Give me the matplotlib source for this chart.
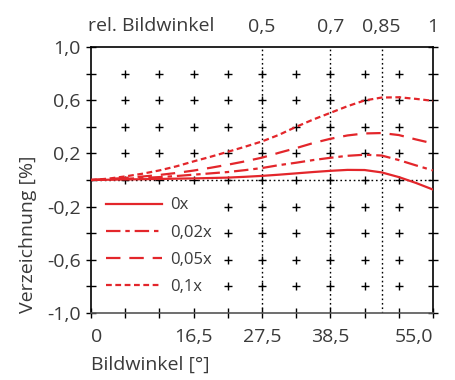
import numpy as np
import matplotlib
matplotlib.use('Agg')
from matplotlib import pyplot as plt

plt.rcParams['font.family'] = ['Open Sans', 'DejaVu Sans']
plt.rcParams['font.size'] = 14

# Bildwinkel in Grad
winkel = [0, 2.75, 5.5, 8.25, 11, 13.75, 16.5, 19.25, 22, 24.75, 27.5, 30.25, 33,
          35.75, 38.5, 41.25, 44, 46.75, 49.5, 52.25, 55]

# Verzeichnung in % fuer die vier Faelle
v_0x = [0, 0.002, 0.004, 0.006, 0.008, 0.010, 0.012, 0.015, 0.018, 0.024, 0.031, 0.040,
        0.050, 0.060, 0.069, 0.076, 0.075, 0.057, 0.022, -0.022, -0.072]
v_002x = [0, 0.004, 0.009, 0.015, 0.022, 0.030, 0.040, 0.050, 0.060, 0.074, 0.090, 0.112,
          0.130, 0.150, 0.167, 0.182, 0.190, 0.184, 0.150, 0.110, 0.072]
v_005x = [0, 0.007, 0.016, 0.026, 0.038, 0.053, 0.071, 0.092, 0.115, 0.140, 0.168, 0.205,
          0.240, 0.278, 0.310, 0.335, 0.350, 0.353, 0.338, 0.305, 0.275]
v_01x = [0, 0.010, 0.027, 0.047, 0.072, 0.103, 0.140, 0.175, 0.212, 0.250, 0.290, 0.340,
         0.400, 0.455, 0.505, 0.555, 0.598, 0.620, 0.622, 0.610, 0.595]
labels = ['0x', '0,02x', '0,05x', '0,1x']

# Achsen
xticks = [0, 5.5, 11, 16.5, 22, 27.5, 33, 38.5, 44, 49.5, 55]
xticklabels = ['0', '', '', '16,5', '', '27,5', '', '38,5', '', '', '55,0']
yticks = [-1.0, -0.8, -0.6, -0.4, -0.2, 0, 0.2, 0.4, 0.6, 0.8, 1.0]
yticklabels = ['-1,0', '', '-0,6', '', '-0,2', '', '0,2', '', '0,6', '', '1,0']
rel_ticks = [27.5, 38.5, 46.75, 55]
rel_labels = ['0,5', '0,7', '0,85', '1']

RED = '#e3262b'
TXT = '#3a3a3a'

fig = plt.figure(figsize=(4.56, 3.80), dpi=100)
ax = fig.add_axes([91/456, 67/380, 342/456, 266/380])

# Hilfslinien
for xv in rel_ticks[:-1]:
    ax.axvline(xv, color='k', lw=1, ls=(0, (1.2, 2)), zorder=1)
ax.axhline(0, color='k', lw=1, ls=(0, (1.2, 2)), zorder=1)

# Kreuzraster
gx, gy = np.meshgrid(xticks[1:-1], yticks[1:-1])
ax.plot(gx.ravel(), gy.ravel(), ls='none', marker='+', ms=6, mew=1, color='k', zorder=2)

ax.plot(winkel, v_0x, color=RED, lw=1.6, label=labels[0], zorder=3)
ax.plot(winkel, v_002x, color=RED, lw=1.6, ls=(0, (6.5, 2.2, 2, 2.2)), label=labels[1], zorder=3)
ax.plot(winkel, v_005x, color=RED, lw=1.6, ls=(0, (6.5, 4)), label=labels[2], zorder=3)
ax.plot(winkel, v_01x, color=RED, lw=1.6, ls=(0, (2.6, 1.6)), label=labels[3], zorder=3)

ax.set_xlim(0, 55)
ax.set_ylim(-1, 1)
ax.set_xticks(xticks)
ax.set_xticklabels(xticklabels)
ax.set_yticks(yticks)
ax.set_yticklabels(yticklabels)
ax.tick_params(direction='inout', length=7, width=1, colors='k', labelcolor=TXT,
               top=True, right=True, labelsize=14)
ax.tick_params(axis='x', pad=7)
ax.tick_params(axis='y', pad=4)
xl = ax.get_xticklabels()
xl[0].set_ha('left')
xl[-1].set_ha('right')
for s in ax.spines.values():
    s.set_linewidth(1.2)
    s.set_color('k')
ax.spines['bottom'].set_color('#555555')

ax.set_xlabel('Bildwinkel [°]', loc='left', color=TXT, labelpad=7)
ax.set_ylabel('Verzeichnung [%]', loc='bottom', color=TXT, labelpad=7)

# obere Achse: relativer Bildwinkel
ax2 = ax.twiny()
ax2.set_xlim(0, 55)
ax2.set_xticks(rel_ticks)
ax2.set_xticklabels(rel_labels)
ax2.tick_params(length=0, pad=8, labelcolor=TXT, labelsize=14)
for s in ax2.spines.values():
    s.set_visible(False)
ax.text(-0.01, 1.078, 'rel. Bildwinkel', transform=ax.transAxes, color=TXT,
        ha='left', va='center', fontsize=14)

leg = ax.legend(loc='upper left', bbox_to_anchor=(0.035, 0.447), frameon=True,
                facecolor='white', edgecolor='none', framealpha=1, fancybox=False,
                handlelength=3.36, handletextpad=0.48, labelspacing=0.67,
                borderpad=0.2, borderaxespad=0, fontsize=12, labelcolor=TXT)
leg.set_zorder(5)

fig.savefig('out.png', dpi=100)
